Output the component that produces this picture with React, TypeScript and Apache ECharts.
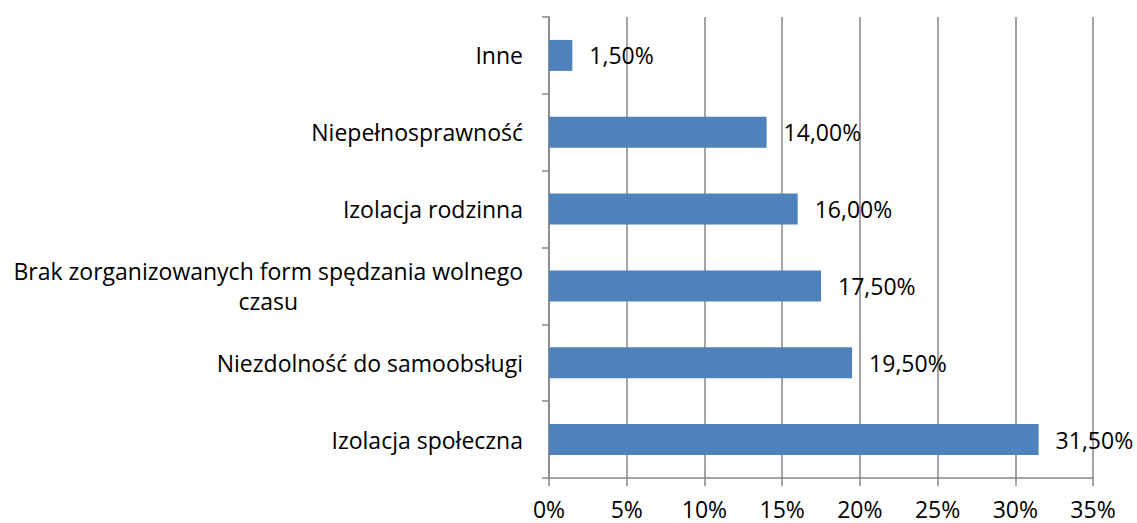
import React, { useEffect, useRef } from "react";
import * as echarts from "echarts";

const categories = [
  "Izolacja społeczna",
  "Niezdolność do samoobsługi",
  "Brak zorganizowanych form spędzania wolnego\nczasu",
  "Izolacja rodzinna",
  "Niepełnosprawność",
  "Inne",
];
const values = [31.5, 19.5, 17.5, 16.0, 14.0, 1.5];
const xTicks = [0, 5, 10, 15, 20, 25, 30, 35];

const FONT = "Open Sans";
const FS = 23;
const GRAY = "#868686";

export default function App() {
  const ref = useRef<HTMLDivElement>(null);
  useEffect(() => {
    if (!ref.current) return;
    const chart = echarts.init(ref.current, undefined, { renderer: "svg" });
    chart.setOption({
      animation: false,
      backgroundColor: "#ffffff",
      grid: { left: 549, right: 44, top: 17, bottom: 45, containLabel: false },
      xAxis: {
        type: "value",
        min: xTicks[0],
        max: xTicks[xTicks.length - 1],
        interval: 5,
        axisLine: { show: true, lineStyle: { color: GRAY, width: 1.5 } },
        axisTick: { show: true, length: 8, lineStyle: { color: GRAY, width: 1.5 } },
        splitLine: { show: true, lineStyle: { color: GRAY, width: 1.5 } },
        axisLabel: {
          formatter: (v: number) => `${v}%`,
          color: "#000",
          fontFamily: FONT,
          fontSize: FS,
          margin: 19,
        },
      },
      yAxis: {
        type: "category",
        data: categories,
        axisLine: { show: true, lineStyle: { color: GRAY, width: 1.5 } },
        axisTick: { show: true, length: 7, lineStyle: { color: GRAY, width: 1.5 } },
        axisLabel: {
          color: "#000",
          fontFamily: FONT,
          fontSize: FS,
          margin: 26,
          lineHeight: 30,
          formatter: (v: string) =>
            v.includes("\n")
              ? v
                  .split("\n")
                  .map((s) => `{c|${s}}`)
                  .join("\n")
              : v,
          rich: {
            c: {
              align: "center",
              color: "#000",
              fontFamily: FONT,
              fontSize: FS,
              lineHeight: 30,
            },
          },
        },
      },
      series: [
        {
          type: "bar",
          data: values,
          barWidth: 31,
          itemStyle: { color: "#4F81BD" },
          label: {
            show: true,
            position: "right",
            distance: 17,
            color: "#000",
            fontFamily: FONT,
            fontSize: FS,
            formatter: (p: any) => p.value.toFixed(2).replace(".", ",") + "%",
          },
        },
      ],
    });
    return () => chart.dispose();
  }, []);
  return (
    <div
      ref={ref}
      style={{ position: "absolute", left: 0, top: 0, width: 1137, height: 523 }}
    />
  );
}
